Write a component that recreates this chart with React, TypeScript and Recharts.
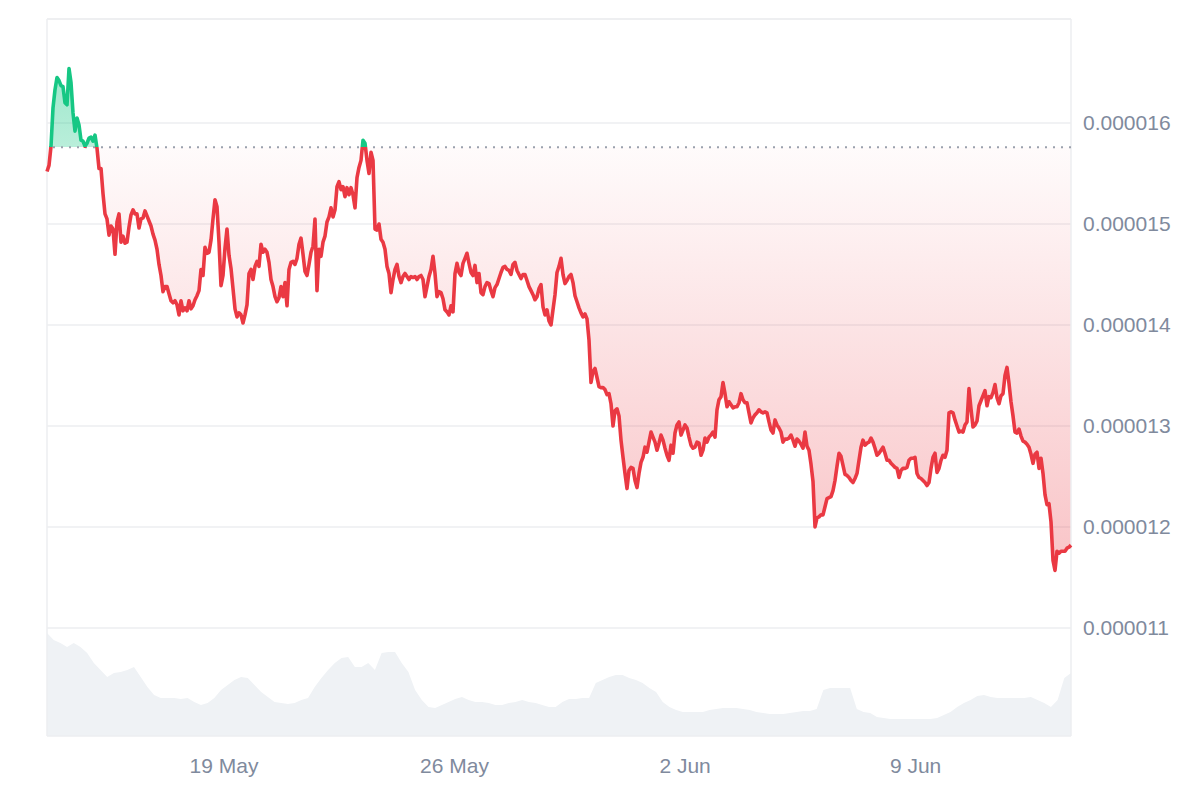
import React from "react";
import {
  ComposedChart,
  Area,
  Line,
  XAxis,
  YAxis,
  CartesianGrid,
  ReferenceLine,
} from "recharts";

// ---- data -----------------------------------------------------------
const START_MS = Date.UTC(2024, 4, 13, 15, 0); // first price sample
const PRICE_STEP_HOURS = 1.4575; // spacing of price samples
const HOUR_MS = 3600 * 1000;

// price in units of 1e-6 (micro)
const PRICE_MICRO: number[] = [
  15.52, 15.58, 15.77, 16.15, 16.33, 16.45, 16.42, 16.37, 16.36, 16.2,
  16.18, 16.54, 16.4, 16.1, 15.92, 16.05, 15.98, 15.83, 15.82, 15.77,
  15.8, 15.85, 15.86, 15.82, 15.88, 15.75, 15.55, 15.55, 15.3, 15.1,
  15.05, 14.89, 14.98, 14.95, 14.7, 15.02, 15.1, 14.82, 14.88, 14.81,
  14.82, 14.97, 15.09, 15.14, 15.1, 15.1, 14.96, 15.05, 15.06, 15.13,
  15.08, 15.03, 14.98, 14.9, 14.84, 14.75, 14.6, 14.49, 14.33, 14.38,
  14.38, 14.31, 14.24, 14.22, 14.24, 14.2, 14.1, 14.24, 14.14, 14.17,
  14.14, 14.24, 14.16, 14.19, 14.25, 14.29, 14.34, 14.55, 14.49, 14.77,
  14.71, 14.72, 14.84, 15.05, 15.24, 15.17, 14.82, 14.39, 14.49, 14.76,
  14.95, 14.69, 14.56, 14.36, 14.16, 14.08, 14.12, 14.1, 14.02, 14.1,
  // 100
  14.2, 14.51, 14.55, 14.45, 14.58, 14.63, 14.58, 14.8, 14.72, 14.75,
  14.72, 14.62, 14.45, 14.38, 14.28, 14.23, 14.27, 14.38, 14.28, 14.42,
  14.19, 14.55, 14.62, 14.63, 14.6, 14.66, 14.8, 14.86, 14.7, 14.53,
  14.49, 14.6, 14.72, 14.78, 15.05, 14.34, 14.75, 14.68, 14.82, 14.88,
  15.02, 15.07, 15.16, 15.07, 15.14, 15.37, 15.42, 15.34, 15.37, 15.27,
  15.36, 15.29, 15.36, 15.29, 15.16, 15.46, 15.56, 15.63, 15.83, 15.8,
  15.63, 15.5, 15.71, 15.63, 14.95, 14.94, 15.0, 14.85, 14.82, 14.75,
  14.58, 14.51, 14.32, 14.45, 14.55, 14.6, 14.48, 14.42, 14.48, 14.51,
  14.48, 14.45, 14.48, 14.47, 14.48, 14.45, 14.48, 14.49, 14.45, 14.28,
  14.38, 14.48, 14.55, 14.68, 14.51, 14.28, 14.33, 14.32, 14.26, 14.15,
  // 200
  14.13, 14.1, 14.19, 14.13, 14.51, 14.61, 14.52, 14.49, 14.61, 14.66,
  14.71, 14.61, 14.52, 14.49, 14.59, 14.42, 14.51, 14.32, 14.3, 14.38,
  14.42, 14.41, 14.34, 14.28, 14.37, 14.4, 14.46, 14.52, 14.57, 14.58,
  14.55, 14.54, 14.5, 14.6, 14.62, 14.54, 14.5, 14.46, 14.5, 14.5,
  14.44, 14.38, 14.34, 14.3, 14.25, 14.28, 14.36, 14.4, 14.18, 14.1,
  14.15, 14.04, 14.0, 14.15, 14.3, 14.52, 14.58, 14.66, 14.5, 14.41,
  14.44, 14.48, 14.5, 14.42, 14.29, 14.23, 14.17, 14.12, 14.08, 14.11,
  14.06, 13.85, 13.43, 13.54, 13.57, 13.48, 13.39, 13.38, 13.38, 13.36,
  13.31, 13.32, 13.22, 13.0, 13.15, 13.17, 13.1, 12.86, 12.69, 12.53,
  12.38, 12.56, 12.59, 12.58, 12.46, 12.39, 12.53, 12.64, 12.69, 12.79,
  // 300
  12.74, 12.84, 12.94, 12.89, 12.84, 12.76, 12.83, 12.91, 12.86, 12.78,
  12.71, 12.66, 12.81, 12.73, 12.93, 13.01, 13.04, 12.91, 12.96, 13.01,
  12.98, 12.89, 12.81, 12.78, 12.79, 12.84, 12.83, 12.71, 12.76, 12.88,
  12.84, 12.89, 12.91, 12.94, 12.89, 13.16, 13.26, 13.29, 13.43, 13.32,
  13.19, 13.24, 13.21, 13.18, 13.19, 13.19, 13.23, 13.32, 13.26, 13.23,
  13.23, 13.13, 13.03, 13.08, 13.11, 13.13, 13.16, 13.14, 13.13, 13.14,
  13.13, 13.04, 12.96, 12.93, 13.06, 13.01, 12.98, 12.94, 12.84, 12.87,
  12.87, 12.88, 12.91, 12.86, 12.8, 12.87, 12.85, 12.82, 12.78, 12.94,
  12.8, 12.76, 12.62, 12.45, 12.0, 12.09, 12.1, 12.12, 12.12, 12.2,
  12.28, 12.29, 12.3, 12.36, 12.46, 12.6, 12.73, 12.7, 12.61, 12.52,
  // 400
  12.51, 12.49, 12.46, 12.44, 12.48, 12.53, 12.66, 12.79, 12.86, 12.81,
  12.83, 12.84, 12.88, 12.84, 12.78, 12.71, 12.73, 12.76, 12.79, 12.73,
  12.66, 12.66, 12.63, 12.61, 12.59, 12.58, 12.49, 12.56, 12.58, 12.58,
  12.59, 12.66, 12.68, 12.68, 12.69, 12.53, 12.49, 12.48, 12.46, 12.44,
  12.41, 12.44, 12.58, 12.69, 12.73, 12.54, 12.58, 12.66, 12.71, 12.69,
  12.76, 13.13, 13.14, 13.13, 13.06, 13.0, 12.94, 12.95, 12.94, 13.01,
  13.04, 13.37, 13.17, 12.99, 13.01, 13.05, 13.2, 13.25, 13.3, 13.35,
  13.2, 13.29, 13.28, 13.33, 13.41, 13.28, 13.22, 13.3, 13.32, 13.5,
  13.58, 13.42, 13.24, 13.1, 12.94, 12.93, 12.97, 12.9, 12.85, 12.84,
  12.82, 12.79, 12.72, 12.63, 12.72, 12.74, 12.58, 12.68, 12.53, 12.32,
  12.22, 12.23, 12.05, 11.67, 11.57, 11.76, 11.74, 11.76, 11.76, 11.76,
  11.79, 11.8, 11.82,
];

// traded volume, relative units (no axis shown)
const VOLUME: number[] = [
  103, 96, 93, 89, 93, 89, 83, 73, 66, 59,
  63, 64, 66, 69, 59, 49, 41, 38, 38, 38,
  37, 38, 34, 31, 33, 38, 46, 51, 56, 59,
  58, 51, 44, 39, 34, 33, 32, 33, 36, 38,
  49, 58, 66, 73, 78, 79, 69, 69, 73, 66,
  83, 84, 84, 73, 64, 46, 36, 29, 28, 31,
  34, 37, 39, 36, 34, 34, 33, 31, 31, 33,
  34, 36, 34, 33, 31, 29, 29, 34, 37, 37,
  38, 38, 53, 56, 59, 61, 61, 58, 56, 53,
  48, 44, 34, 29, 26, 24, 24, 24, 24, 26,
  27, 28, 28, 28, 27, 26, 24, 23, 22, 22,
  22, 23, 24, 25, 25, 27, 46, 48, 48, 48,
  48, 27, 24, 23, 19, 18, 17, 17, 17, 17,
  17, 17, 17, 18, 21, 24, 29, 33, 36, 40,
  41, 39, 38, 38, 38, 38, 38, 39, 36, 33,
  29, 36, 58, 63,
];

const OPEN_PRICE_MICRO = 15.76; // reference (dotted) line
const Y_TICKS_MICRO = [11, 12, 13, 14, 15, 16];
const Y_DOMAIN_MICRO = [9.93, 17.03];
const VOLUME_AXIS_MAX = 717;
const X_TICK_DATES = ["2024-05-19", "2024-05-26", "2024-06-02", "2024-06-09"];
const X_TICK_LABELS = ["19 May", "26 May", "2 Jun", "9 Jun"];

// ---- derived tables ---------------------------------------------------
const MICRO = 1e-6;
const T_END = START_MS + (PRICE_MICRO.length - 1) * PRICE_STEP_HOURS * HOUR_MS;
const priceData = PRICE_MICRO.map((v, i) => ({
  t: START_MS + i * PRICE_STEP_HOURS * HOUR_MS,
  price: v * MICRO,
}));
const volumeData = VOLUME.map((v, j) => ({
  t: START_MS + (j * (T_END - START_MS)) / (VOLUME.length - 1),
  volume: v,
}));
const OPEN_PRICE = OPEN_PRICE_MICRO * MICRO;
const yTicks = Y_TICKS_MICRO.map((v) => v * MICRO);
const yDomain = Y_DOMAIN_MICRO.map((v) => v * MICRO);
const xTicks = X_TICK_DATES.map((d) => Date.parse(d + "T00:00:00Z"));
const xLabel = (v: number) => {
  const k = xTicks.indexOf(v);
  return k >= 0 ? X_TICK_LABELS[k] : "";
};

const pMax = Math.max(...PRICE_MICRO);
const pMin = Math.min(...PRICE_MICRO);
const splitOffset = (pMax - OPEN_PRICE_MICRO) / (pMax - pMin);

const GREEN = "#16c784";
const RED = "#ea3943";
const GRID = "#eceef1";
const TEXT = "#808a9d";
const FONT = "'Liberation Sans', Arial, Helvetica, sans-serif";

const W = 1200;
const H = 800;

export default function App() {
  return (
    <div
      style={{
        position: "absolute",
        left: 0,
        top: 0,
        width: W,
        height: H,
        background: "#ffffff",
        fontFamily: FONT,
      }}
    >
      <div style={{ position: "absolute", left: 0, top: 0 }}>
        <ComposedChart
          width={W}
          height={H}
          data={volumeData}
          margin={{ top: 19, right: 129, bottom: 64, left: 47 }}
        >
          <XAxis
            dataKey="t"
            type="number"
            domain={[START_MS, T_END]}
            hide
          />
          <YAxis type="number" domain={[0, VOLUME_AXIS_MAX]} hide />
          <Area
            type="linear"
            dataKey="volume"
            stroke="none"
            fill="#eff2f5"
            fillOpacity={1}
            isAnimationActive={false}
          />
        </ComposedChart>
      </div>
      <div style={{ position: "absolute", left: 0, top: 0 }}>
        <ComposedChart
          width={W}
          height={H}
          data={priceData}
          margin={{ top: 19, right: 0, bottom: 0, left: 47 }}
        >
          <defs>
            <linearGradient id="priceStroke" x1="0" y1="0" x2="0" y2="1">
              <stop offset={0} stopColor={GREEN} />
              <stop offset={splitOffset} stopColor={GREEN} />
              <stop offset={splitOffset} stopColor={RED} />
              <stop offset={1} stopColor={RED} />
            </linearGradient>
            <linearGradient id="priceFill" x1="0" y1="0" x2="0" y2="1">
              <stop offset={0} stopColor={GREEN} stopOpacity={0.42} />
              <stop offset={splitOffset} stopColor={GREEN} stopOpacity={0.3} />
              <stop offset={splitOffset} stopColor={RED} stopOpacity={0.02} />
              <stop offset={1} stopColor={RED} stopOpacity={0.3} />
            </linearGradient>
          </defs>
          <CartesianGrid vertical={false} stroke={GRID} strokeWidth={1.5} />
          <XAxis
            dataKey="t"
            type="number"
            domain={[START_MS, T_END]}
            ticks={xTicks}
            tickFormatter={xLabel}
            axisLine={false}
            tickLine={false}
            tickSize={0}
            tickMargin={22}
            height={64}
            tick={{ fill: TEXT, fontSize: 21, fontFamily: FONT }}
          />
          <YAxis
            type="number"
            orientation="right"
            domain={yDomain}
            ticks={yTicks}
            tickFormatter={(v: number) => v.toFixed(6)}
            axisLine={false}
            tickLine={false}
            tickSize={0}
            tickMargin={12}
            width={129}
            allowDataOverflow
            tick={{ fill: TEXT, fontSize: 21, fontFamily: FONT }}
          />
          <ReferenceLine y={yDomain[1]} stroke={GRID} strokeWidth={1.5} />
          <ReferenceLine x={START_MS} stroke={GRID} strokeWidth={1.5} />
          <ReferenceLine x={T_END} stroke={GRID} strokeWidth={1.5} />
          <Area
            type="linear"
            dataKey="price"
            baseValue={OPEN_PRICE}
            stroke="none"
            fill="url(#priceFill)"
            fillOpacity={1}
            isAnimationActive={false}
          />
          <ReferenceLine
            y={OPEN_PRICE}
            stroke="#9aa1ad"
            strokeWidth={2}
            strokeDasharray="2 6"
          />
          <Line
            type="linear"
            dataKey="price"
            stroke="url(#priceStroke)"
            strokeWidth={3.6}
            strokeLinejoin="round"
            dot={false}
            activeDot={false}
            isAnimationActive={false}
          />
        </ComposedChart>
      </div>
    </div>
  );
}
